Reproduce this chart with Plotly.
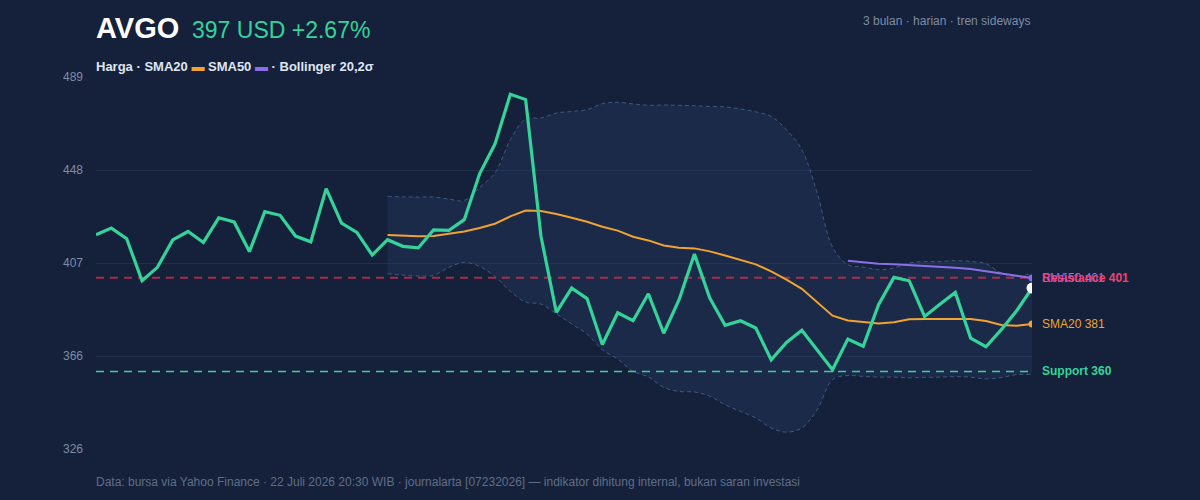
import plotly.graph_objects as go

# ---------------- data ----------------
price = [419.9, 422.8, 418.1, 399.7, 405.6, 417.6, 421.3, 416.5, 427.3, 425.5,
         412.5, 430.0, 428.4, 419.3, 416.8, 440.1, 425.0, 420.9, 411.0, 417.7,
         414.8, 414.1, 422.0, 421.8, 426.5, 446.6, 459.6, 481.4, 479.1, 419.2,
         385.9, 396.5, 391.9, 371.8, 385.7, 382.2, 394.0, 376.7, 391.4, 411.4,
         392.1, 380.2, 382.2, 379.0, 365.1, 372.7, 378.0, 369.5, 360.7, 374.2,
         371.0, 389.2, 401.2, 399.7, 384.1, 389.4, 394.6, 374.6, 370.8, 378.3,
         386.6, 396.5]

sma20_start = 19
sma20 = [419.8, 419.5, 419.2, 419.3, 420.3, 421.3, 422.8, 424.7, 427.9, 430.5,
         430.3, 429.0, 427.3, 425.6, 423.4, 421.7, 419.0, 417.4, 415.2, 414.2,
         413.9, 412.6, 410.8, 409.0, 406.9, 403.8, 400.2, 396.2, 390.4, 384.4,
         382.3, 381.5, 381.0, 381.5, 382.8, 383.0, 383.1, 383.1, 383.0, 382.1,
         380.3, 380.0, 380.8]

sma50_start = 49
sma50 = [408.5, 407.8, 407.2, 406.9, 406.6, 406.3, 405.9, 405.4, 404.9, 403.8,
         402.7, 401.9, 400.9]

bb_start = 19
bb_upper = [436.7, 436.5, 436.4, 436.4, 435.5, 434.9, 440.6, 446.9, 461.5, 470.6,
            471.0, 473.2, 473.9, 474.7, 477.3, 477.9, 477.2, 476.6, 476.7, 476.6,
            476.4, 476.1, 475.9, 475.0, 473.7, 471.7, 465.9, 457.1, 438.2, 414.5,
            406.8, 405.7, 404.6, 405.3, 407.5, 408.1, 408.2, 408.5, 408.2, 407.2,
            403.1, 401.6, 403.1]
bb_lower = [402.8, 402.2, 401.8, 402.1, 405.6, 407.8, 406.0, 401.6, 395.1, 390.4,
            389.5, 385.3, 380.8, 376.4, 369.5, 365.4, 360.0, 357.6, 353.0, 351.2,
            351.0, 349.1, 345.4, 342.5, 339.6, 335.2, 333.4, 335.2, 343.2, 356.4,
            358.2, 357.8, 357.5, 357.5, 357.2, 357.4, 357.5, 357.7, 357.5, 356.7,
            357.3, 358.6, 358.6]

resistance = 401
support = 360

y_tickvals = [326, 366.75, 407.5, 448.25, 489]
y_ticktext = ["326", "366", "407", "448", "489"]

ticker = "AVGO"
last_price_text = "397 USD +2.67%"
subtitle = "3 bulan · harian · tren sideways"
footer = ("Data: bursa via Yahoo Finance · 22 Juli 2026 20:30 WIB · journalarta [07232026]"
          " — indikator dihitung internal, bukan saran investasi")

# ---------------- style ----------------
BG = "#15213a"
GRID = "#223049"
GREEN = "#34d399"
ORANGE = "#f0a330"
PURPLE = "#8b6fe8"
RED_LINE = "rgba(190,48,78,0.85)"
RED_TXT = "#f0426e"
BAND_LINE = "#3f5880"
BAND_FILL = "rgba(40,62,105,0.33)"
MUTED = "#7e8ca5"
FONT = "Liberation Sans, Arial, sans-serif"

n = len(price)
x_all = list(range(n))
x_bb = list(range(bb_start, bb_start + len(bb_upper)))
x_s20 = list(range(sma20_start, sma20_start + len(sma20)))
x_s50 = list(range(sma50_start, sma50_start + len(sma50)))

fig = go.Figure()

# Bollinger bands
fig.add_trace(go.Scatter(x=x_bb, y=bb_upper, mode="lines",
                         line=dict(color=BAND_LINE, width=1, dash="4px,3px", shape="spline", smoothing=1.0),
                         hoverinfo="skip"))
fig.add_trace(go.Scatter(x=x_bb, y=bb_lower, mode="lines", fill="tonexty", fillcolor=BAND_FILL,
                         line=dict(color=BAND_LINE, width=1, dash="4px,3px", shape="spline", smoothing=1.0),
                         hoverinfo="skip"))

# support / resistance (drawn over band, under the series)
fig.add_trace(go.Scatter(x=[0, n - 1], y=[resistance, resistance], mode="lines",
                         line=dict(color=RED_LINE, width=2, dash="8px,6px"), hoverinfo="skip"))
fig.add_trace(go.Scatter(x=[0, n - 1], y=[support, support], mode="lines",
                         line=dict(color=GREEN, width=1.5, dash="8px,6px"), hoverinfo="skip"))

# SMA lines
fig.add_trace(go.Scatter(x=x_s20, y=sma20, mode="lines",
                         line=dict(color=ORANGE, width=2)))
fig.add_trace(go.Scatter(x=[x_s20[-1]], y=[sma20[-1]], mode="markers",
                         marker=dict(color=ORANGE, size=7)))
fig.add_trace(go.Scatter(x=x_s50, y=sma50, mode="lines",
                         line=dict(color=PURPLE, width=2)))
fig.add_trace(go.Scatter(x=[x_s50[-1]], y=[sma50[-1]], mode="markers",
                         marker=dict(color=PURPLE, size=7)))

# price
fig.add_trace(go.Scatter(x=x_all, y=price, mode="lines",
                         line=dict(color=GREEN, width=3.2)))
fig.add_trace(go.Scatter(x=[x_all[-1]], y=[price[-1]], mode="markers",
                         marker=dict(color="white", size=11)))

ann = []
ann.append(dict(xref="paper", yref="y", x=1, xshift=8, y=sma20[-1], xanchor="left",
                text=f"SMA20 {round(sma20[-1])}", showarrow=False,
                font=dict(color=ORANGE, size=12, family=FONT)))
ann.append(dict(xref="paper", yref="y", x=1, xshift=8, y=sma50[-1], xanchor="left",
                text=f"SMA50 {round(sma50[-1])}", showarrow=False,
                font=dict(color=PURPLE, size=12, family=FONT)))
ann.append(dict(xref="paper", yref="y", x=1, xshift=8, y=resistance, xanchor="left",
                text=f"<b>Resistance {resistance}</b>", showarrow=False,
                font=dict(color=RED_TXT, size=12, family=FONT)))
ann.append(dict(xref="paper", yref="y", x=1, xshift=8, y=support, xanchor="left",
                text=f"<b>Support {support}</b>", showarrow=False,
                font=dict(color=GREEN, size=12, family=FONT)))

# header
ann.append(dict(xref="paper", yref="paper", x=0, y=1, xanchor="left", yanchor="bottom",
                yshift=31, xshift=-2,
                text=(f"<b><span style='font-size:29px;color:#ffffff'>{ticker}</span></b>"
                      f"  <span style='font-size:23px;color:{GREEN}'>{last_price_text}</span>"),
                showarrow=False, font=dict(family=FONT, size=23)))
ann.append(dict(xref="paper", yref="paper", x=1, y=1, xanchor="right", yanchor="bottom",
                yshift=47, text=subtitle, showarrow=False,
                font=dict(family=FONT, size=12, color=MUTED)))
ann.append(dict(xref="paper", yref="paper", x=0, y=1, xanchor="left", yanchor="bottom",
                yshift=1, xshift=-2,
                text=(f"<b>Harga · SMA20 <span style='color:{ORANGE}'>▬</span> SMA50 "
                      f"<span style='color:{PURPLE}'>▬</span> · Bollinger 20,2σ</b>"),
                showarrow=False, font=dict(family=FONT, size=13, color="#dfe6f1")))
ann.append(dict(xref="paper", yref="paper", x=0, y=0, xanchor="left", yanchor="top",
                yshift=-24, xshift=-2, text=footer, showarrow=False,
                font=dict(family=FONT, size=12, color="#5f6e88")))

fig.update_layout(
    width=1200, height=500,
    paper_bgcolor=BG, plot_bgcolor=BG,
    margin=dict(l=96, r=168, t=77, b=51),
    showlegend=False,
    font=dict(family=FONT, color=MUTED, size=12),
    annotations=ann,
    xaxis=dict(range=[0, n - 1], showgrid=False, zeroline=False, showticklabels=False,
               showline=False, ticks=""),
    yaxis=dict(range=[326, 489], tickvals=y_tickvals, ticktext=y_ticktext,
               showgrid=True, gridcolor=GRID, gridwidth=1, zeroline=False, showline=False,
               ticks="", ticklabelstandoff=12, tickfont=dict(color=MUTED, size=12, family=FONT)),
)

fig.write_html("out.html")
